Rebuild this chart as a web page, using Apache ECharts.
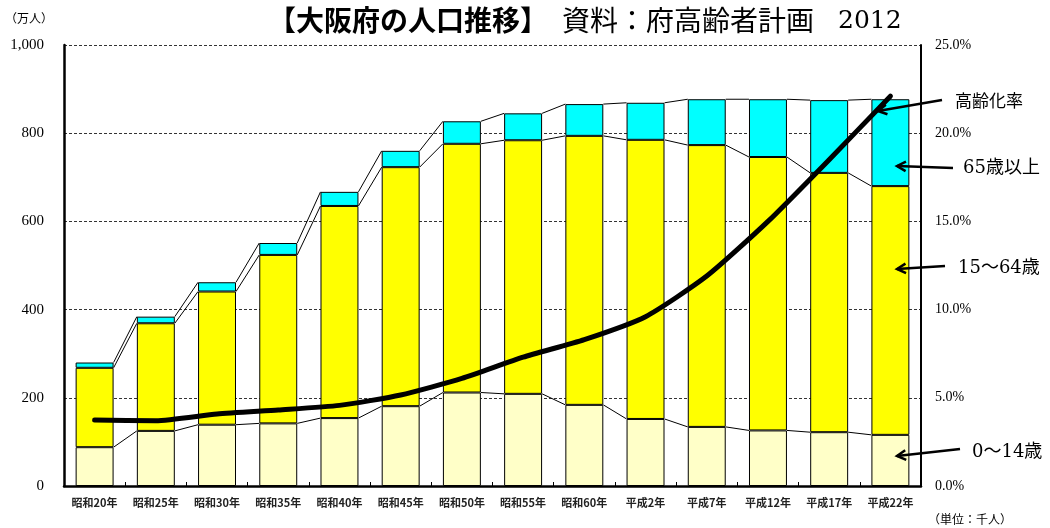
<!DOCTYPE html>
<html>
<head>
<meta charset="utf-8">
<script src="https://cdn.jsdelivr.net/npm/echarts@6/dist/echarts.min.js"></script>
<style>
  html, body { margin: 0; padding: 0; background: #fff; }
  #chart { width: 1050px; height: 528px; }
</style>
</head>
<body>
<div id="chart"></div>
<script>
// 大阪府の年齢3区分別人口（万人）と高齢化率（%）
const years = ['昭和20年', '昭和25年', '昭和30年', '昭和35年', '昭和40年', '昭和45年', '昭和50年',
               '昭和55年', '昭和60年', '平成2年', '平成7年', '平成12年', '平成17年', '平成22年'];
const age0to14  = [88, 125, 139, 142, 154, 181, 212, 209, 184, 152, 134, 126, 122, 116];
const age15to64 = [180, 244, 302, 382, 481, 542, 564, 575, 610, 633, 639, 620, 588, 564];
const age65plus = [12, 15, 21, 27, 32, 37, 51, 61, 72, 84, 104, 131, 165, 197];
const agingRate = [3.74, 3.70, 4.08, 4.31, 4.57, 5.16, 6.1, 7.3, 8.3, 9.6, 11.9, 15.0, 18.5, 22.1];
const leftTicks = [0, 200, 400, 600, 800, 1000];
const rightTicks = [0, 5, 10, 15, 20, 25];

// 各区分の積み上げ上端（区分線用）
const top1 = age0to14.map(v => v);
const top2 = age0to14.map((v, i) => v + age15to64[i]);
const top3 = top2.map((v, i) => v + age65plus[i]);
const linkData = years.slice(0, -1).map((_, i) =>
  [i, top1[i], top1[i + 1], top2[i], top2[i + 1], top3[i], top3[i + 1]]);

const BAR_RATIO = 0.62;
const serif = '"Liberation Serif", "DejaVu Serif", serif';
const noteFont = '"DejaVu Serif", "Noto Sans CJK JP", serif';
const jpSans = '"Noto Sans CJK JP", sans-serif';

const chart = echarts.init(document.getElementById('chart'), null, { renderer: 'canvas' });

// 右側の注記（矢印つき）
function arrow(x1, y1, x2, y2) {
  const ang = Math.atan2(y1 - y2, x1 - x2);
  const L = 10, A = 0.5;
  return [
    { type: 'line', shape: { x1, y1, x2, y2 }, style: { stroke: '#000', lineWidth: 2.5 }, z: 100 },
    { type: 'polyline', shape: { points: [
        [x2 + L * Math.cos(ang + A), y2 + L * Math.sin(ang + A)],
        [x2, y2],
        [x2 + L * Math.cos(ang - A), y2 + L * Math.sin(ang - A)]] },
      style: { stroke: '#000', lineWidth: 2.5, fill: null }, z: 100 }
  ];
}
function note(x, y, text, size) {
  return { type: 'text', x, y, z: 100,
    style: { text, fill: '#000', font: size + 'px ' + noteFont, textVerticalAlign: 'middle' } };
}

chart.setOption({
  animation: false,
  grid: { left: 64, right: 129, top: 45, bottom: 42 },
  xAxis: {
    type: 'category',
    data: years,
    axisLine: { lineStyle: { color: '#000', width: 2.5 } },
    axisTick: { show: true, inside: true, length: 4, lineStyle: { color: '#000' } },
    axisLabel: { color: '#222', fontFamily: jpSans, fontSize: 11, fontWeight: 'bold', margin: 11 }
  },
  yAxis: [
    {
      type: 'value', min: 0, max: 1000, interval: 200,
      axisLine: { show: true, lineStyle: { color: '#000', width: 2.5 } },
      axisTick: { show: false },
      axisLabel: { color: '#000', fontFamily: serif, fontSize: 15, margin: 20,
        formatter: v => leftTicks.includes(v) ? v.toLocaleString('en-US') : '' },
      splitLine: { lineStyle: { color: '#333', type: [3, 2], width: 1 } }
    },
    {
      type: 'value', min: 0, max: 25, interval: 5, position: 'right',
      axisLine: { show: true, lineStyle: { color: '#000', width: 2 } },
      axisTick: { show: false },
      axisLabel: { color: '#000', fontFamily: serif, fontSize: 14, margin: 14,
        formatter: v => rightTicks.includes(v) ? v.toFixed(1) + '%' : '' },
      splitLine: { show: false }
    }
  ],
  series: [
    { name: '0～14歳', type: 'bar', stack: 'pop', data: age0to14, barWidth: (BAR_RATIO * 100) + '%',
      itemStyle: { color: '#FFFFC8', borderColor: '#000', borderWidth: 1 } },
    { name: '15～64歳', type: 'bar', stack: 'pop', data: age15to64,
      itemStyle: { color: '#FFFF00', borderColor: '#000', borderWidth: 1 } },
    { name: '65歳以上', type: 'bar', stack: 'pop', data: age65plus,
      itemStyle: { color: '#00FFFF', borderColor: '#000', borderWidth: 1 } },
    {
      name: '区分線', type: 'custom', data: linkData, z: 3,
      encode: { x: 0, y: [1, 2, 3, 4, 5, 6] },
      renderItem: function (params, api) {
        const i = api.value(0);
        const half = api.size([1, 0])[0] * BAR_RATIO / 2;
        const children = [];
        for (let k = 0; k < 3; k++) {
          const a = api.coord([i, api.value(1 + 2 * k)]);
          const b = api.coord([i + 1, api.value(2 + 2 * k)]);
          children.push({ type: 'line',
            shape: { x1: a[0] + half, y1: a[1], x2: b[0] - half, y2: b[1] },
            style: { stroke: '#000', lineWidth: 1 } });
        }
        return { type: 'group', children };
      }
    },
    { name: '高齢化率', type: 'line', yAxisIndex: 1, data: agingRate, z: 5,
      symbol: 'none', smooth: 0.2,
      lineStyle: { color: '#000', width: 5, cap: 'round' } }
  ],
  graphic: [
    // 表題
    { type: 'text', x: 268, y: 20, style: { text: '【大阪府の人口推移】', fill: '#000',
        font: 'bold 28px ' + jpSans, textVerticalAlign: 'middle' } },
    { type: 'text', x: 562, y: 20, style: { text: '資料：府高齢者計画', fill: '#000',
        font: '28px ' + jpSans, textVerticalAlign: 'middle' } },
    { type: 'text', x: 838, y: 21, style: { text: '2012', fill: '#000',
        font: '25px "DejaVu Serif", serif', textVerticalAlign: 'middle' } },
    { type: 'text', x: 5, y: 18, style: { text: '（万人）', fill: '#000', font: '12px ' + jpSans, textVerticalAlign: 'middle' } },
    { type: 'text', x: 928, y: 519, style: { text: '（単位：千人）', fill: '#000', font: '12px ' + jpSans, textVerticalAlign: 'middle' } },
    note(955, 103, '高齢化率', 17),
    note(963, 168, '65歳以上', 18),
    note(958, 268, '15～64歳', 18),
    note(972, 452, '0～14歳', 18),
    ...arrow(942, 100, 878, 111),
    ...arrow(953, 168, 897, 166),
    ...arrow(945, 266, 897, 269),
    ...arrow(960, 449, 897, 456)
  ]
});
</script>
</body>
</html>
